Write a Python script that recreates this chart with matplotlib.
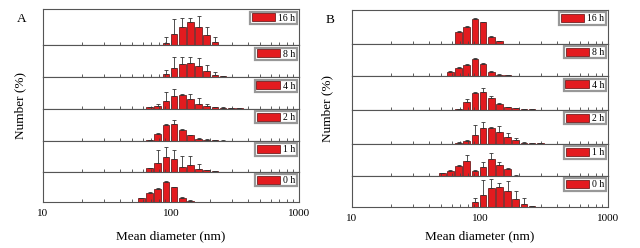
import numpy as np
import matplotlib
matplotlib.use('Agg')
from matplotlib import pyplot as plt
from matplotlib.ticker import LogLocator, NullFormatter, FixedFormatter, FixedLocator

plt.rcParams['font.family'] = ['Liberation Serif', 'DejaVu Serif']

# size classes (nm), log-spaced DLS bins
bins = [50.75, 58.77, 68.06, 78.82, 91.28, 105.7, 122.4, 141.8, 164.2, 190.1, 220.2, 255.0, 295.3, 342.0]
times = ['16 h', '8 h', '4 h', '2 h', '1 h', '0 h']

# panel A : number (%) and upper end of error bar
a_vals = [
    [0, 0, 0, 0, 2.0, 11.7, 18.0, 23.3, 18.7, 10.0, 3.7, 0, 0, 0],
    [0, 0, 0, 0, 3.0, 9.3, 13.8, 14.7, 11.3, 6.3, 2.7, 1.0, 0.5, 0],
    [0, 0, 1.3, 2.7, 7.7, 13.0, 14.0, 9.7, 5.0, 2.3, 1.2, 0.8, 0.5, 0.3],
    [0, 0, 0.7, 7.3, 16.0, 17.3, 11.3, 5.7, 2.3, 1.3, 0.7, 0.4, 0, 0],
    [0, 0, 3.3, 9.0, 14.8, 12.5, 4.8, 6.7, 3.2, 1.3, 0.7, 0, 0, 0],
    [0, 4.0, 9.7, 13.3, 20.7, 15.0, 4.7, 1.7, 0.5, 0.3, 0, 0, 0, 0],
]
a_tops = [
    [0, 0, 0, 0, 8.3, 26.0, 27.0, 27.3, 29.3, 18.0, 8.3, 0, 0, 0],
    [0, 0, 0, 0, 7.3, 20.0, 20.5, 20.0, 19.3, 12.3, 5.7, 1.5, 0.8, 0],
    [0, 0, 1.8, 5.0, 16.3, 19.7, 15.0, 15.0, 10.7, 5.0, 1.8, 1.2, 0.8, 0.5],
    [0, 0, 1.0, 8.0, 17.0, 21.0, 12.3, 6.5, 3.0, 1.8, 1.0, 0.6, 0, 0],
    [0, 0, 4.0, 21.7, 24.5, 21.3, 15.8, 15.7, 7.5, 2.0, 1.0, 0, 0, 0],
    [0, 4.5, 10.5, 14.0, 21.5, 15.7, 5.3, 2.2, 0.8, 0.5, 0, 0, 0, 0],
]

# panel B
b_vals = [
    [0, 0, 12.0, 16.7, 24.7, 21.3, 6.7, 2.7, 0, 0, 0, 0, 0, 0],
    [0, 4.0, 8.0, 11.0, 17.0, 12.3, 4.7, 1.7, 0.8, 0.4, 0, 0, 0, 0],
    [0, 0, 0.8, 7.5, 16.5, 18.0, 11.7, 6.0, 2.3, 1.3, 0.7, 0.4, 0, 0],
    [0, 0, 1.5, 3.0, 9.0, 15.7, 16.3, 11.7, 6.7, 3.7, 1.5, 1.0, 0.7, 0],
    [2.7, 5.3, 10.3, 14.7, 5.3, 8.7, 16.7, 10.7, 7.0, 0.5, 0, 0, 0, 0],
    [0, 0, 0, 0.5, 5.0, 12.7, 19.0, 20.0, 16.0, 8.3, 3.3, 1.0, 0.5, 0],
]
b_tops = [
    [0, 0, 13.0, 17.5, 25.5, 22.0, 7.3, 3.2, 0, 0, 0, 0, 0, 0],
    [0, 4.8, 8.8, 11.8, 17.8, 13.1, 5.4, 2.2, 1.2, 0.7, 0, 0, 0, 0],
    [0, 0, 1.2, 10.5, 17.5, 21.5, 14.0, 7.0, 3.0, 1.8, 1.0, 0.6, 0, 0],
    [0, 0, 2.0, 4.5, 19.0, 22.3, 17.2, 18.0, 10.7, 6.3, 2.0, 1.4, 1.0, 0],
    [3.2, 6.0, 11.0, 21.0, 6.0, 14.3, 22.7, 14.3, 7.8, 0.8, 0, 0, 0, 0],
    [0, 0, 0, 0.8, 9.3, 27.3, 28.3, 24.7, 26.3, 16.7, 9.0, 1.5, 0.8, 0],
]

W, H = 640.0, 248.0
fig = plt.figure(figsize=(6.4, 2.48), dpi=100)

bar_red = '#e31b1f'
ratio = 1.158


def draw_stack(x0, x1, edges, vals, tops, letter, letter_xy, ylab_x):
    centres = np.array(bins)
    left = centres * ratio ** -0.41
    right = centres * ratio ** 0.41
    axes = []
    for i in range(6):
        ytop, ybot = edges[i], edges[i + 1]
        ax = fig.add_axes([x0 / W, 1 - ybot / H, (x1 - x0) / W, (ybot - ytop) / H])
        v = np.array(vals[i])
        t = np.array(tops[i])
        m = v > 0
        ax.bar(left[m], v[m], width=(right - left)[m], align='edge',
               color=bar_red, edgecolor='#5a0a0a', linewidth=0.5, label=times[i])
        e = (t - v)[m]
        ax.errorbar(centres[m], v[m], yerr=[np.zeros(m.sum()), np.clip(e, 0, None)],
                    fmt='none', ecolor='#333333', elinewidth=0.6, capsize=1.2, capthick=0.6)
        ax.set_xscale('log')
        ax.set_xlim(10, 1000)
        ax.set_ylim(0, ybot - ytop)
        ax.set_yticks([])
        ax.xaxis.set_major_locator(FixedLocator([10, 100, 1000]))
        ax.xaxis.set_minor_locator(LogLocator(base=10, subs=np.arange(2, 10)))
        ax.xaxis.set_minor_formatter(NullFormatter())
        ax.tick_params(axis='x', which='major', direction='in', length=3.5, width=0.6, color='#444444')
        ax.tick_params(axis='x', which='minor', direction='in', length=2.0, width=0.6, color='#444444')
        for s in ax.spines.values():
            s.set_color('#555555')
            s.set_linewidth(0.8)
        leg = ax.legend(loc='upper right', fontsize=7, frameon=True, fancybox=False,
                        handlelength=2.4, handleheight=0.9, handletextpad=0.3,
                        borderpad=0.15, borderaxespad=0.25)
        leg.get_frame().set_edgecolor('#7f7f7f')
        leg.get_frame().set_linewidth(1.6)
        if i < 5:
            ax.set_xticklabels([])
        else:
            ax.xaxis.set_major_formatter(FixedFormatter(['10', '100', '1000']))
            ax.tick_params(axis='x', which='major', labelsize=8, pad=5)
        axes.append(ax)
    fig.text(letter_xy[0] / W, 1 - letter_xy[1] / H, letter, fontsize=9.5,
             ha='center', va='center')
    fig.text(ylab_x / W, 1 - ((edges[0] + edges[-1]) / 2) / H, 'Number (%)',
             rotation=90, fontsize=9.5, ha='center', va='center')
    fig.text((x0 + x1) / 2 / W, 1 - 236 / H, 'Mean diameter (nm)',
             fontsize=9.5, ha='center', va='center')
    return axes


draw_stack(43, 299, [9.3, 45.3, 77.3, 108.7, 141.0, 171.7, 202.3],
           a_vals, a_tops, 'A', (22, 19), 20)
draw_stack(352, 608, [10.0, 43.7, 76.3, 109.7, 144.0, 176.0, 207.3],
           b_vals, b_tops, 'B', (330, 20), 327)

fig.savefig('out.png', dpi=100)
